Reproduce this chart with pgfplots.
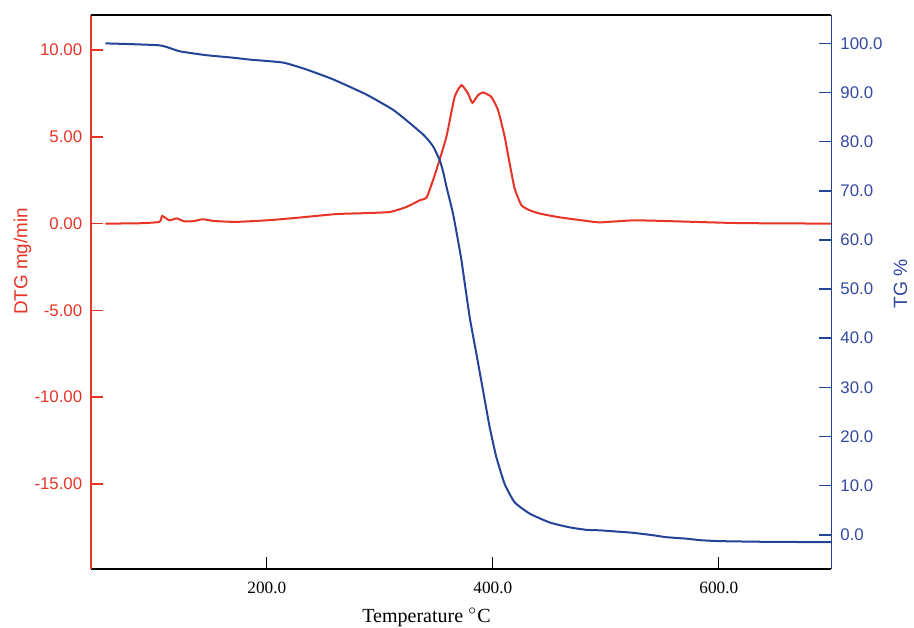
\documentclass[border=0pt]{standalone}
\usepackage{pgfplots}
\pgfplotsset{compat=1.18}
\usepackage{fontspec}
\setmainfont{Liberation Serif}
\setsansfont{Liberation Sans}

\definecolor{dtgred}{RGB}{230,52,40}
\definecolor{tgblue}{RGB}{36,68,152}
\definecolor{tgtext}{RGB}{52,72,160}

\pgfplotsset{
  common/.style={
    scale only axis,
    width=369.5pt, height=276.5pt,
    xmin=44.7, xmax=699.5,
    tick align=inside,
    major tick length=6pt,
    /pgf/number format/assume math mode=true,
  },
}

\begin{document}
\begin{tikzpicture}
% DTG, left axis
\begin{axis}[
    common,
    name=ax,
    axis x line*=bottom,
    axis y line*=left,
    ymin=-19.89, ymax=12.02,
    ytick={-15,-10,-5,0,5,10},
    xtick={200,400,600},
    x axis line style={black, line width=0.9pt},
    y axis line style={dtgred, line width=0.8pt},
    ytick style={dtgred, line width=0.8pt},
    xtick style={black, line width=0.6pt},
    xticklabel={\pgfmathprintnumber[fixed, fixed zerofill, precision=1]{\tick}},
    yticklabel={\pgfmathprintnumber[fixed, fixed zerofill, precision=2]{\tick}},
    xticklabel style={font=\rmfamily\fontsize{8.6}{10}\selectfont, yshift=-3pt},
    yticklabel style={font=\sffamily\fontsize{8.4}{10}\selectfont, text=dtgred, xshift=-1pt},
    xlabel={Temperature $^{\circ}$C},
    xlabel style={font=\rmfamily\fontsize{10}{12}\selectfont, inner sep=0.5pt, at={(axis description cs:0.453,0)}, anchor=center, yshift=-24.3pt},
    ylabel={DTG mg/min},
    ylabel style={font=\sffamily\fontsize{9.4}{12}\selectfont, text=dtgred, at={(axis description cs:-0.093,0.555)}, anchor=center},
  ]
\addplot[dtgred, line width=1pt, smooth, tension=0.3] coordinates {
  (57.2,0.00) (87.2,0.02) (105.0,0.10) (107.4,0.44) (113.8,0.19)
  (120.3,0.30) (127.1,0.13) (136.0,0.15) (143.3,0.25) (153.7,0.15)
  (172.9,0.10) (202.4,0.20) (229.0,0.35) (261.5,0.55) (285.0,0.60)
  (308.7,0.67) (323.5,0.96) (335.2,1.34) (341.7,1.54) (350.0,3.08)
  (358.9,5.00) (366.2,7.30) (372.2,7.98) (378.0,7.50) (381.9,6.96)
  (386.9,7.40) (391.3,7.56) (398.7,7.30) (404.6,6.54) (410.5,5.00)
  (414.9,3.46) (419.3,2.02) (425.3,1.06) (432.6,0.77) (441.5,0.58)
  (459.2,0.36) (485.8,0.13) (494.6,0.07) (525.6,0.19) (568.1,0.12)
  (618.6,0.03) (699.2,0.00)
};
\end{axis}
% TG, right axis
\begin{axis}[
    common,
    axis x line*=top,
    axis y line*=right,
    ymin=-6.93, ymax=105.77,
    ytick={0,10,...,100},
    xtick=\empty,
    x axis line style={black, line width=0.9pt},
    y axis line style={tgblue, line width=0.8pt},
    ytick style={tgblue, line width=0.8pt},
    yticklabel={\pgfmathprintnumber[fixed, fixed zerofill, precision=1]{\tick}},
    yticklabel style={font=\sffamily\fontsize{8.4}{10}\selectfont, text=tgtext, xshift=1pt},
    ylabel={TG \%},
    ylabel style={font=\sffamily\fontsize{9.6}{12}\selectfont, text=tgtext, at={(axis description cs:1.0935,0.514)}, anchor=center},
  ]
\addplot[tgblue, line width=1pt, smooth, tension=0.3] coordinates {
  (57.2,100.0) (105.0,99.6) (122.7,98.4) (146.3,97.6) (169.6,97.1)
  (184.7,96.7) (214.2,96.1) (234.9,94.7) (258.4,92.7) (288.0,89.6)
  (311.6,86.5) (326.4,83.8) (338.1,81.5) (343.0,80.3) (347.5,78.9)
  (352.9,76.3) (355.9,74.0) (358.9,70.9) (364.7,65.4) (369.1,60.0)
  (372.2,55.9) (379.5,44.3) (385.4,36.9) (391.3,29.4) (397.2,21.9)
  (403.1,15.8) (410.5,10.3) (419.3,6.6) (432.6,4.3) (450.3,2.5)
  (468.0,1.5) (482.8,1.0) (494.6,0.9) (512.3,0.6) (523.8,0.4)
  (541.8,-0.1) (553.7,-0.5) (571.4,-0.8) (583.2,-1.1) (600.9,-1.3)
  (645.0,-1.45) (699.2,-1.5)
};
\end{axis}
\path ([yshift=7.5pt]ax.north);
\path ([xshift=-3.5pt]current bounding box.west);
\end{tikzpicture}
\end{document}
